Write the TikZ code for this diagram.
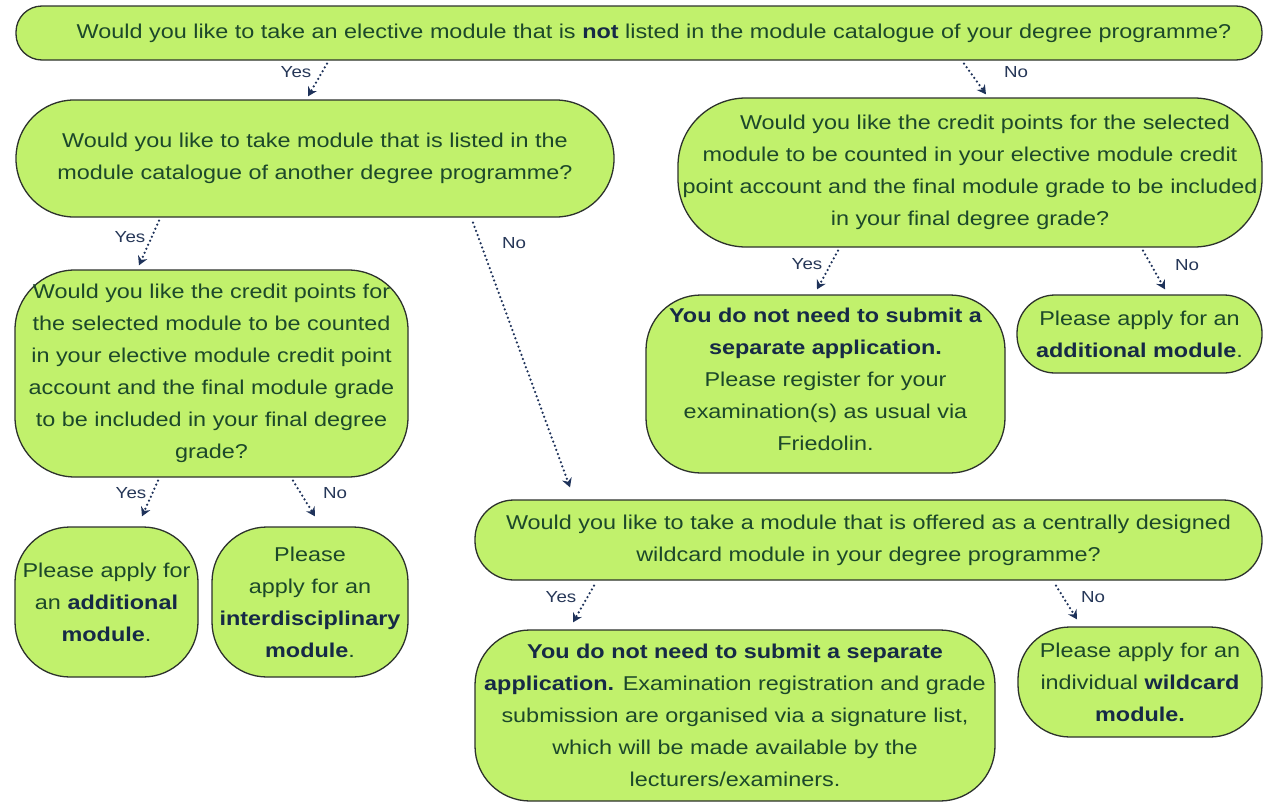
\documentclass[tikz,border=0pt]{standalone}
\usepackage{fontspec}
\setmainfont{Liberation Sans}[FakeStretch=1.17]
\usetikzlibrary{arrows.meta,calc}
\definecolor{boxfill}{RGB}{193,241,108}
\definecolor{boxline}{RGB}{45,50,45}
\definecolor{txt}{RGB}{28,72,42}
\definecolor{bld}{RGB}{22,42,70}
\definecolor{lab}{RGB}{38,55,88}
\definecolor{arrc}{RGB}{30,50,90}
\newcommand\bn[1]{\textbf{\color{bld}#1}}
\begin{document}
\begin{tikzpicture}[x=1pt,y=-1pt,
 box/.style={draw=boxline,fill=boxfill,line width=1.3pt,inner sep=0pt,align=center,text=txt,font=\fontsize{20}{32}\selectfont},
 lbl/.style={text=lab,font=\fontsize{16}{18}\selectfont,inner sep=0pt},
 conn/.style={draw=arrc,line width=2.5pt,line cap=round,dash pattern=on 0pt off 4.4pt,-{Stealth[length=9pt,width=10pt,inset=3pt]}}]
\fill[white] (0,0) rectangle (1266,803);
\useasboundingbox (0,0) rectangle (1266,803);

\node[box,minimum width=1246pt,minimum height=54pt,rounded corners=26pt] (top) at (639,33)
 {\hspace*{30pt}Would you like to take an elective module that is \bn{not} listed in the module catalogue of your degree programme?};

\node[box,minimum width=598pt,minimum height=117pt,rounded corners=58pt] (q2) at (315,158.5)
 {Would you like to take module that is listed in the\\module catalogue of another degree programme?};

\node[box,minimum width=584pt,minimum height=149pt,rounded corners=68pt] (q3) at (970,172.5)
 {\hspace*{30pt}Would you like the credit points for the selected\\module to be counted in your elective module credit\\point account and the final module grade to be included\\in your final degree grade?};

\node[box,minimum width=393pt,minimum height=207pt,rounded corners=60pt] (q4) at (211.5,373.5)
 {Would you like the credit points for\\the selected module to be counted\\in your elective module credit point\\account and the final module grade\\to be included in your final degree\\grade?};

\node[box,minimum width=359pt,minimum height=178pt,rounded corners=55pt] (r3y) at (825.5,384)
 {\bn{You do not need to submit a}\\\bn{separate application.}\\Please register for your\\examination(s) as usual via\\Friedolin.\\[-22pt]};

\node[box,minimum width=245pt,minimum height=78pt,rounded corners=38pt] (r3n) at (1139.5,334)
 {Please apply for an\\\bn{additional module}.};

\node[box,minimum width=183pt,minimum height=150pt,rounded corners=55pt] (r4y) at (106.5,602)
 {Please apply for\\an \bn{additional}\\\bn{module}.};

\node[box,minimum width=196pt,minimum height=150pt,rounded corners=55pt] (r4n) at (310,602)
 {Please\\apply for an\\\bn{interdisciplinary}\\\bn{module}.};

\node[box,minimum width=787pt,minimum height=80pt,rounded corners=39pt] (q5) at (868.5,540)
 {Would you like to take a module that is offered as a centrally designed\\wildcard module in your degree programme?};

\node[box,minimum width=520pt,minimum height=171pt,rounded corners=55pt] (r5y) at (735,715.5)
 {\bn{You do not need to submit a separate}\\\bn{application.} Examination registration and grade\\submission are organised via a signature list,\\which will be made available by the\\lecturers/examiners.};

\node[box,minimum width=244pt,minimum height=110pt,rounded corners=52pt] (r5n) at (1140,682)
 {Please apply for an\\individual \bn{wildcard}\\\bn{module.}};

% labels
\node[lbl] (l1) at (296,72) {Yes};
\node[lbl] (l2) at (1016,72) {No};
\node[lbl] (l3) at (130,237) {Yes};
\node[lbl] (l4) at (514,243) {No};
\node[lbl] (l5) at (807,264) {Yes};
\node[lbl] (l6) at (1187,265) {No};
\node[lbl] (l7) at (131,493) {Yes};
\node[lbl] (l8) at (335,493) {No};
\node[lbl] (l9) at (561,597) {Yes};
\node[lbl] (l10) at (1093,597) {No};

% connectors
\draw[conn] ($(top.south)+(-312,3)$) -- ($(q2.north)+(-7,-3)$);
\draw[conn] ($(top.south)+(325,3)$) -- ($(q3.north)+(16,-3)$);
\draw[conn] ($(q2.south)+(-156,3)$) -- ($(q4.north)+(-72.5,-4)$);
\draw[conn] ($(q2.south)+(158,5)$) -- ($(q5.north)+(-298.5,-12)$);
\draw[conn] ($(q3.south)+(-132,3)$) -- ($(r3y.north)+(-8.5,-5)$);
\draw[conn] ($(q3.south)+(173,3)$) -- ($(r3n.north)+(25.5,-5)$);
\draw[conn] ($(q4.south)+(-53.5,3)$) -- ($(r4y.north)+(35.5,-10)$);
\draw[conn] ($(q4.south)+(81.5,3)$) -- ($(r4n.north)+(5,-10)$);
\draw[conn] ($(q5.south)+(-274.5,5)$) -- ($(r5y.north)+(-162,-7)$);
\draw[conn] ($(q5.south)+(187.5,5)$) -- ($(r5n.north)+(-63,-7)$);
\end{tikzpicture}
\end{document}
